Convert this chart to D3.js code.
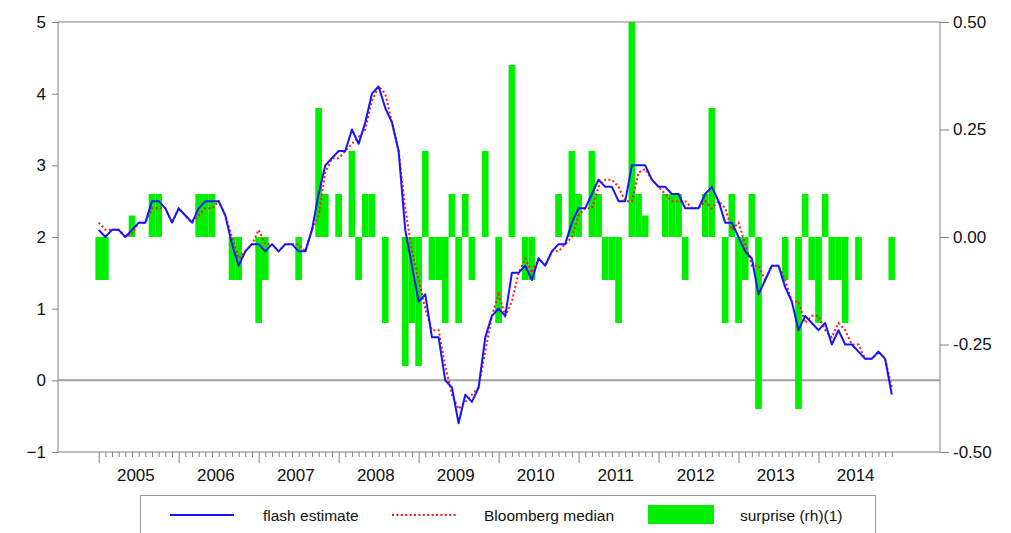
<!DOCTYPE html>
<html><head><meta charset="utf-8">
<script src="https://cdnjs.cloudflare.com/ajax/libs/d3/7.8.5/d3.min.js"></script>
<style>body{margin:0;background:#fff}svg{display:block}text{font-family:"Liberation Sans",Arial,sans-serif}</style>
</head><body><svg id="c" width="1011" height="533"></svg>
<script>
// Monthly data, Jan 2005 .. Dec 2014
const years = [2005,2006,2007,2008,2009,2010,2011,2012,2013,2014];
const flash = [
 2.1,2.0,2.1,2.1,2.0,2.1,2.2,2.2,2.5,2.5,2.4,2.2,
 2.4,2.3,2.2,2.4,2.5,2.5,2.5,2.3,1.9,1.6,1.8,1.9,
 1.9,1.8,1.9,1.8,1.9,1.9,1.8,1.8,2.1,2.6,3.0,3.1,
 3.2,3.2,3.5,3.3,3.6,4.0,4.1,3.8,3.6,3.2,2.1,1.6,
 1.1,1.2,0.6,0.6,0.0,-0.1,-0.6,-0.2,-0.3,-0.1,0.6,0.9,
 1.0,0.9,1.5,1.5,1.6,1.4,1.7,1.6,1.8,1.9,1.9,2.2,
 2.4,2.4,2.6,2.8,2.7,2.7,2.5,2.5,3.0,3.0,3.0,2.8,
 2.7,2.7,2.6,2.6,2.4,2.4,2.4,2.6,2.7,2.5,2.2,2.2,
 2.0,1.8,1.7,1.2,1.4,1.6,1.6,1.3,1.1,0.7,0.9,0.8,
 0.7,0.8,0.5,0.7,0.5,0.5,0.4,0.3,0.3,0.4,0.3,-0.2];
const median = [
 2.2,2.1,2.1,2.1,2.0,2.05,2.2,2.2,2.4,2.4,2.4,2.2,
 2.4,2.3,2.2,2.3,2.4,2.4,2.5,2.3,2.0,1.7,1.8,1.9,
 2.1,1.9,1.9,1.8,1.9,1.9,1.9,1.8,2.1,2.3,2.9,3.1,
 3.1,3.2,3.3,3.4,3.5,3.9,4.1,4.0,3.6,3.2,2.4,1.8,
 1.4,1.0,0.7,0.7,0.2,-0.2,-0.4,-0.3,-0.2,-0.1,0.4,0.9,
 1.2,0.9,1.1,1.5,1.7,1.5,1.7,1.6,1.8,1.8,1.9,2.0,
 2.3,2.4,2.4,2.7,2.8,2.8,2.7,2.5,2.5,2.9,2.95,2.8,
 2.7,2.6,2.5,2.5,2.5,2.4,2.4,2.5,2.4,2.5,2.4,2.1,
 2.2,1.9,1.6,1.6,1.4,1.6,1.6,1.4,1.1,1.1,0.8,0.9,
 0.9,0.7,0.6,0.8,0.7,0.5,0.5,0.3,0.3,0.4,0.3,-0.1];
const surprise = [
 -0.1,-0.1,0,0,0,0.05,0,0,0.1,0.1,0,0,
 0,0,0,0.1,0.1,0.1,0,0,-0.1,-0.1,0,0,
 -0.2,-0.1,0,0,0,0,-0.1,0,0,0.3,0.1,0,
 0.1,0,0.2,-0.1,0.1,0.1,0,-0.2,0,0,-0.3,-0.2,
 -0.3,0.2,-0.1,-0.1,-0.2,0.1,-0.2,0.1,-0.1,0,0.2,0,
 -0.2,0,0.4,0,-0.1,-0.1,0,0,0,0.1,0,0.2,
 0.1,0,0.2,0.1,-0.1,-0.1,-0.2,0,0.5,0.1,0.05,0,
 0,0.1,0.1,0.1,-0.1,0,0,0.1,0.3,0,-0.2,0.1,
 -0.2,-0.1,0.1,-0.4,0,0,0,-0.1,0,-0.4,0.1,-0.1,
 -0.2,0.1,-0.1,-0.1,-0.2,0,-0.1,0,0,0,0,-0.1];
const leftTicks = [-1,0,1,2,3,4,5];
const rightTicks = [-0.5,-0.25,0,0.25,0.5];
const rightTickLabels = ["-0.50","-0.25","0.00","0.25","0.50"];
const legendLabels = ["flash estimate","Bloomberg median","surprise (rh)(1)"];

const svg = d3.select("#c");
const L = 58, R = 940, T = 22, B = 452;
const n = flash.length;
const x = d3.scaleLinear().domain([0, n - 1]).range([98.7, 891.8]);
const step = x(1) - x(0);
const yL = d3.scaleLinear().domain([-1, 5]).range([B, T]);
const yR = d3.scaleLinear().domain([-0.5, 0.5]).range([B, T]);
const axisCol = "#808080";

// zero line
svg.append("line").attr("x1", L).attr("x2", R).attr("y1", yL(0)).attr("y2", yL(0))
  .attr("stroke", "#a0a0a0").attr("stroke-width", 2);

// bars
svg.append("g").selectAll("rect").data(surprise.map((v,i)=>({v,i})).filter(d=>d.v!==0))
  .join("rect")
  .attr("x", d => x(d.i) - step/2)
  .attr("width", step)
  .attr("y", d => Math.min(yR(0), yR(d.v)))
  .attr("height", d => Math.abs(yR(d.v) - yR(0)))
  .attr("fill", "#00ee00");

// frame
svg.append("rect").attr("x", L).attr("y", T).attr("width", R - L).attr("height", B - T)
  .attr("fill", "none").attr("stroke", axisCol).attr("stroke-width", 1);

// lines
const line = d3.line().x((d,i)=>x(i)).y(d=>yL(d));
svg.append("path").datum(median).attr("d", line).attr("fill","none")
  .attr("stroke", "#ff1a1a").attr("stroke-width", 2).attr("stroke-dasharray", "2,2.4");
svg.append("path").datum(flash).attr("d", line).attr("fill","none")
  .attr("stroke", "#1414ff").attr("stroke-width", 2).attr("stroke-linejoin","round");

// axes
function styleAxis(g, fs){
  g.select(".domain").remove();
  g.selectAll(".tick line").attr("stroke", axisCol);
  g.selectAll(".tick text").attr("fill", "#111").style("font-size", fs + "px")
    .style("font-family", '"Liberation Sans",Arial,sans-serif');
}
const gl = svg.append("g").attr("transform", `translate(${L},0)`)
  .call(d3.axisLeft(yL).tickValues(leftTicks).tickSize(6).tickPadding(6).tickFormat(d3.format("d")));
styleAxis(gl, 17);
const gr = svg.append("g").attr("transform", `translate(${R},0)`)
  .call(d3.axisRight(yR).tickValues(rightTicks).tickSize(9).tickPadding(4)
    .tickFormat((d,i)=>rightTickLabels[i]));
styleAxis(gr, 17);
const gm = svg.append("g").attr("transform", `translate(0,${B})`)
  .call(d3.axisBottom(x).tickValues(d3.range(n).filter(i=>i%12!==0)).tickSize(5).tickFormat(""));
styleAxis(gm, 16);
const gj = svg.append("g").attr("transform", `translate(0,${B})`)
  .call(d3.axisBottom(x).tickValues(d3.range(0, n, 12)).tickSize(11).tickFormat(""));
styleAxis(gj, 16);
const gy = svg.append("g").attr("transform", `translate(0,${B})`)
  .call(d3.axisBottom(x).tickValues(years.map((y,k)=>k*12+5.5)).tickSize(0).tickPadding(17)
    .tickFormat((d,i)=>years[i]));
styleAxis(gy, 17);

// legend
const lg = svg.append("g");
lg.append("rect").attr("x", 140.5).attr("y", 495.5).attr("width", 735).attr("height", 50)
  .attr("fill", "none").attr("stroke", "#999");
lg.append("line").attr("x1", 170).attr("x2", 234).attr("y1", 515).attr("y2", 515)
  .attr("stroke", "#1414ff").attr("stroke-width", 2);
lg.append("text").attr("x", 263).attr("y", 520.5).text(legendLabels[0]).style("font-size","15.5px").attr("fill","#111");
lg.append("line").attr("x1", 392).attr("x2", 458).attr("y1", 515).attr("y2", 515)
  .attr("stroke", "#ff1a1a").attr("stroke-width", 2).attr("stroke-dasharray", "2,2.4");
lg.append("text").attr("x", 484).attr("y", 520.5).text(legendLabels[1]).style("font-size","15.5px").attr("fill","#111");
lg.append("rect").attr("x", 648).attr("y", 505).attr("width", 66).attr("height", 19).attr("fill", "#00ee00");
lg.append("text").attr("x", 740).attr("y", 520.5).text(legendLabels[2]).style("font-size","15.5px").attr("fill","#111");
</script></body></html>
